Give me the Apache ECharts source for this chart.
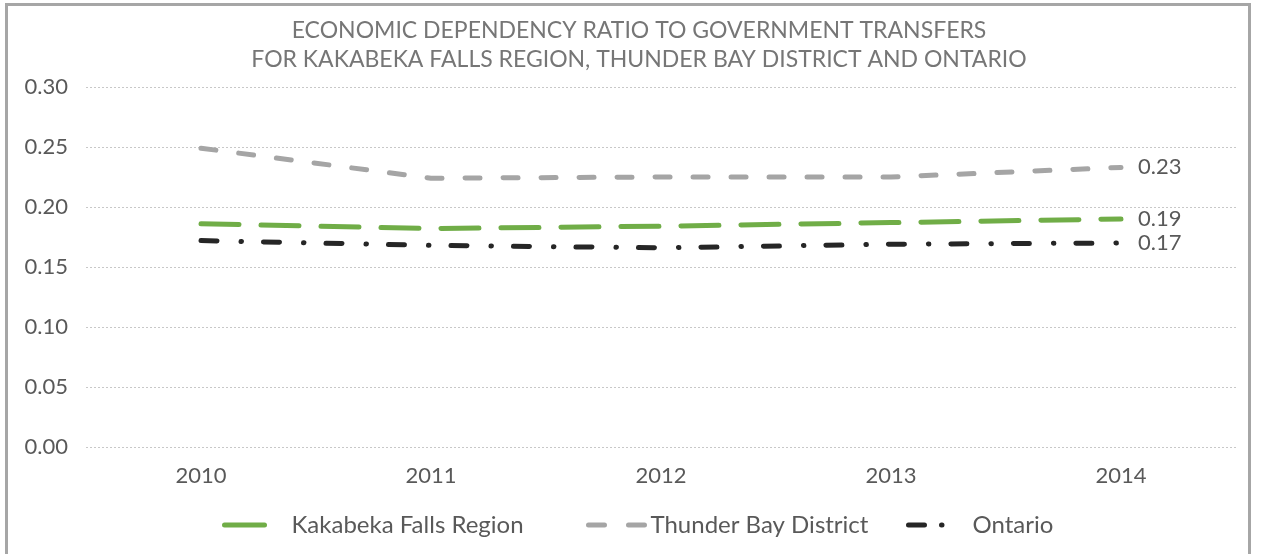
<!DOCTYPE html>
<html>
<head>
<meta charset="utf-8">
<script src="https://cdn.jsdelivr.net/npm/echarts@6/dist/echarts.min.js"></script>
<style>
  html, body { margin: 0; padding: 0; background: #fff; overflow: hidden; }
  .frame {
    position: absolute; left: 5px; top: 3px; width: 1246px; height: 600px;
    border: 3px solid #a6a6a6; box-sizing: border-box;
  }
  .dependency-chart { position: absolute; left: 0; top: 0; width: 1263px; height: 554px; }
</style>
</head>
<body>
<div class="frame"></div>
<div class="dependency-chart"></div>
<script>
const years = ['2010', '2011', '2012', '2013', '2014'];
const kakabeka = [0.186, 0.182, 0.184, 0.187, 0.190];
const thunderBay = [0.249, 0.224, 0.225, 0.225, 0.233];
const ontario = [0.172, 0.168, 0.166, 0.169, 0.170];
const yTicks = [0, 0.05, 0.10, 0.15, 0.20, 0.25, 0.30];

const font = 'Lato, "DejaVu Sans", sans-serif';
const textColor = '#595959';

const chart = echarts.init(document.querySelector('.dependency-chart'));

function endLabel() {
  return {
    show: true,
    distance: 17,
    color: textColor,
    fontFamily: font,
    fontSize: 22,
    formatter: p => p.value.toFixed(2)
  };
}

// one legend per series so each item sits where the original puts it
function legendAt(name, left, width, textPad, dash) {
  return {
    data: [name],
    left: left,
    top: 508,
    itemWidth: width,
    itemHeight: 14,
    itemGap: 0,
    itemStyle: { opacity: 0 },
    lineStyle: { type: dash, width: 5, cap: 'round' },
    textStyle: { color: textColor, fontFamily: font, fontSize: 24, padding: [0, 0, 0, textPad] }
  };
}

const option = {
  animation: false,
  title: {
    text: 'ECONOMIC DEPENDENCY RATIO TO GOVERNMENT TRANSFERS\nFOR KAKABEKA FALLS REGION, THUNDER BAY DISTRICT AND ONTARIO',
    left: 634,
    textAlign: 'center',
    top: 11,
    textStyle: {
      color: '#767676',
      fontFamily: font,
      fontWeight: 'normal',
      fontSize: 23,
      lineHeight: 29
    }
  },
  legend: [
    legendAt('Kakabeka Falls Region', 217, 40, 22, 'solid'),
    legendAt('Thunder Bay District', 581, 56, 1, [16, 24]),
    legendAt('Ontario', 901, 36, 23, [16, 17, 0.5, 20])
  ],
  grid: { left: 86, right: 27, top: 87, bottom: 107 },
  xAxis: {
    type: 'category',
    data: years,
    boundaryGap: true,
    axisLine: { show: false },
    axisTick: { show: false },
    axisLabel: { color: textColor, fontFamily: font, fontSize: 22, margin: 18 }
  },
  yAxis: {
    type: 'value',
    min: yTicks[0],
    max: yTicks[yTicks.length - 1],
    interval: 0.05,
    axisLine: { show: false },
    axisTick: { show: false },
    axisLabel: {
      color: textColor, fontFamily: font, fontSize: 22, margin: 18,
      formatter: v => v.toFixed(2)
    },
    splitLine: { lineStyle: { color: '#c8c8c8', width: 1, type: [2, 2] } }
  },
  series: [
    {
      name: 'Kakabeka Falls Region',
      type: 'line',
      data: kakabeka,
      symbol: 'none',
      lineStyle: { color: '#70ad47', width: 5, type: [38, 22], cap: 'round' },
      itemStyle: { color: '#70ad47' },
      endLabel: endLabel()
    },
    {
      name: 'Thunder Bay District',
      type: 'line',
      data: thunderBay,
      symbol: 'none',
      lineStyle: { color: '#a5a5a5', width: 5, type: [15, 23], cap: 'round' },
      itemStyle: { color: '#a5a5a5' },
      endLabel: endLabel()
    },
    {
      name: 'Ontario',
      type: 'line',
      data: ontario,
      symbol: 'none',
      lineStyle: { color: '#262626', width: 5, type: [16, 24, 0.5, 22], cap: 'round' },
      itemStyle: { color: '#262626' },
      endLabel: endLabel()
    }
  ]
};

chart.setOption(option);
</script>
</body>
</html>
